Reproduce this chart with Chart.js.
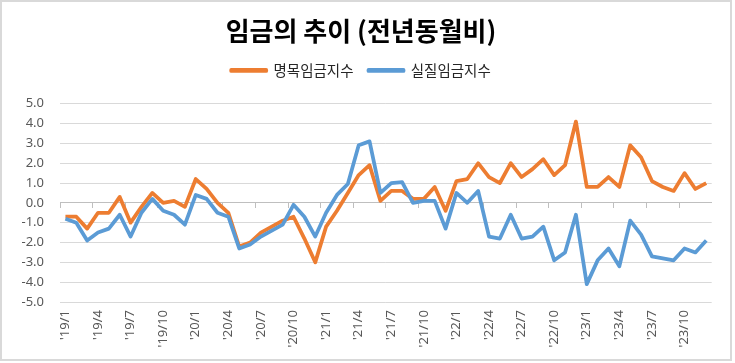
<!DOCTYPE html>
<html>
<head>
<meta charset="utf-8">
<script src="https://cdn.jsdelivr.net/npm/chart.js@4.4.1/dist/chart.umd.min.js"></script>
<style>
    html, body { margin: 0; padding: 0; background: #fff; }
    #wrap {
        position: absolute; left: 0; top: 0;
        width: 732px; height: 361px;
        box-sizing: border-box;
        border: 2px solid #d9d9d9;
        background: #fff;
    }
    #wrap canvas { display: block; }
</style>
</head>
<body>
<div id="wrap"><canvas id="grafico" width="728" height="357"></canvas></div>
<script>
// eixo x: meses de '19/1 a '23/12
const meses = [
    "'19/1","'19/2","'19/3","'19/4","'19/5","'19/6","'19/7","'19/8","'19/9","'19/10","'19/11","'19/12",
    "'20/1","'20/2","'20/3","'20/4","'20/5","'20/6","'20/7","'20/8","'20/9","'20/10","'20/11","'20/12",
    "'21/1","'21/2","'21/3","'21/4","'21/5","'21/6","'21/7","'21/8","'21/9","'21/10","'21/11","'21/12",
    "'22/1","'22/2","'22/3","'22/4","'22/5","'22/6","'22/7","'22/8","'22/9","'22/10","'22/11","'22/12",
    "'23/1","'23/2","'23/3","'23/4","'23/5","'23/6","'23/7","'23/8","'23/9","'23/10","'23/11","'23/12"
];

// 명목임금지수 (전년동월비, %)
const nominal = [
    -0.7, -0.7, -1.3, -0.5, -0.5, 0.3, -1.0, -0.2, 0.5, 0.0, 0.1, -0.2,
    1.2, 0.7, 0.0, -0.5, -2.2, -2.0, -1.5, -1.2, -0.9, -0.7, -1.8, -3.0,
    -1.2, -0.4, 0.5, 1.4, 1.9, 0.1, 0.6, 0.6, 0.2, 0.2, 0.8, -0.4,
    1.1, 1.2, 2.0, 1.3, 1.0, 2.0, 1.3, 1.7, 2.2, 1.4, 1.9, 4.1,
    0.8, 0.8, 1.3, 0.8, 2.9, 2.3, 1.1, 0.8, 0.6, 1.5, 0.7, 1.0
];

// 실질임금지수 (전년동월비, %)
const real = [
    -0.8, -1.0, -1.9, -1.5, -1.3, -0.6, -1.7, -0.5, 0.2, -0.4, -0.6, -1.1,
    0.4, 0.2, -0.5, -0.7, -2.3, -2.1, -1.7, -1.4, -1.1, -0.1, -0.7, -1.7,
    -0.5, 0.4, 0.95, 2.9, 3.1, 0.5, 1.0, 1.05, 0.0, 0.1, 0.1, -1.3,
    0.5, 0.0, 0.6, -1.7, -1.8, -0.6, -1.8, -1.7, -1.2, -2.9, -2.5, -0.6,
    -4.1, -2.9, -2.3, -3.2, -0.9, -1.6, -2.7, -2.8, -2.9, -2.3, -2.5, -1.9
];

const yTicks = [-5, -4, -3, -2, -1, 0, 1, 2, 3, 4, 5];

const corTexto = '#595959';
const corGrade = '#d9d9d9';

// espaço extra abaixo da legenda
const legendaEspaco = {
    id: 'legendaEspaco',
    beforeInit(chart) {
        const fitOriginal = chart.legend.fit;
        chart.legend.fit = function () {
            fitOriginal.bind(chart.legend)();
            this.height += 16;
        };
    }
};

new Chart(document.getElementById('grafico'), {
    type: 'line',
    data: {
        labels: meses,
        datasets: [{
            label: '명목임금지수',
            data: nominal,
            borderColor: '#ED7D31',
            backgroundColor: '#ED7D31',
            borderWidth: 3.75,
            borderJoinStyle: 'round',
            pointRadius: 0,
            tension: 0,
            order: 2
        }, {
            label: '실질임금지수',
            data: real,
            borderColor: '#5B9BD5',
            backgroundColor: '#5B9BD5',
            borderWidth: 3.75,
            borderJoinStyle: 'round',
            pointRadius: 0,
            tension: 0,
            order: 1
        }]
    },
    options: {
        responsive: false,
        animation: false,
        layout: { padding: { left: 8, right: 18, bottom: 0, top: 0 } },
        plugins: {
            title: {
                display: true,
                text: '임금의 추이 (전년동월비)',
                color: '#000',
                font: { family: "'Noto Sans CJK KR'", size: 26, weight: 'bold' },
                padding: { top: 14, bottom: 1 }
            },
            legend: {
                display: true,
                labels: {
                    color: '#262626',
                    font: { family: "'Noto Sans CJK KR'", size: 14.5 },
                    boxWidth: 35,
                    boxHeight: 1,
                    padding: 15,
                    sort: (a, b) => a.datasetIndex - b.datasetIndex
                }
            },
            tooltip: { enabled: false }
        },
        scales: {
            x: {
                type: 'category',
                offset: true,
                border: { display: false },
                grid: { display: false, drawTicks: false },
                ticks: {
                    autoSkip: false,
                    minRotation: 90,
                    maxRotation: 90,
                    padding: 8,
                    color: corTexto,
                    font: { family: "'Noto Sans'", size: 13 },
                    callback: (v, i) => (i % 3 === 0 ? meses[i] : '')
                },
                afterFit: s => { s.height = 57; }
            },
            x2: {
                type: 'category',
                offset: true,
                position: { y: 0 },
                border: { display: true, color: '#bfbfbf', width: 1 },
                grid: {
                    offset: true,
                    drawOnChartArea: false,
                    drawTicks: true,
                    tickLength: 5,
                    color: c => (c.index % 3 === 0 ? '#bfbfbf' : 'rgba(0,0,0,0)')
                },
                ticks: { display: false }
            },
            y: {
                min: -5,
                max: 5,
                border: { display: false },
                grid: { color: corGrade, drawTicks: false },
                afterBuildTicks: s => { s.ticks = yTicks.map(v => ({ value: v })); },
                ticks: {
                    padding: 16,
                    color: corTexto,
                    font: { family: "'Noto Sans'", size: 13 },
                    callback: v => Number(v).toFixed(1)
                },
                afterFit: s => { s.width = 50; }
            }
        }
    },
    plugins: [legendaEspaco]
});
</script>
</body>
</html>
